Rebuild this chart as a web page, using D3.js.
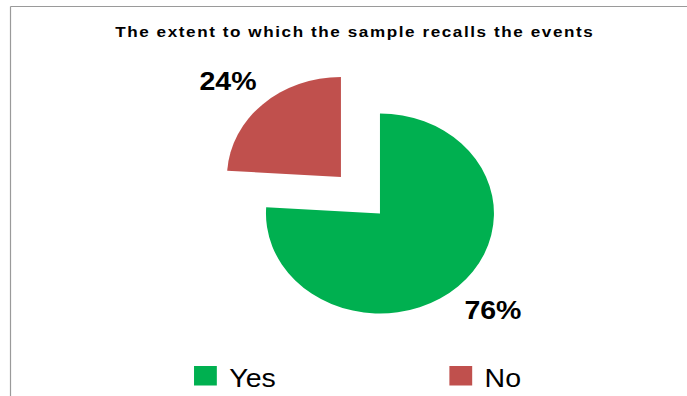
<!DOCTYPE html>
<html>
<head>
<meta charset="utf-8">
<script src="https://cdn.jsdelivr.net/npm/d3@7"></script>
<style>
  html, body { margin: 0; padding: 0; background: #fff; }
  svg { display: block; }
  text { font-family: "Liberation Sans", Arial, sans-serif; }
</style>
</head>
<body>
<script>
// Survey answers
const categories = ["Yes", "No"];
const values = [76, 24];
const colors = ["#00B050", "#C0504D"];
const title = "The extent to which the sample recalls the events";

const W = 687, H = 396;
const sx = 1.14;               // chart area is drawn horizontally widened
const cx = 333.3, cy = 213.5;  // pie centre (in unwidened units)
const R = 100;
const explodeNo = 50;          // "No" slice pulled out from the centre
const labelR = 138;
const labelTurn = -0.047;      // labels sit slightly counter-clockwise of mid-angle

const svg = d3.select("body").append("svg")
  .attr("width", W).attr("height", H);

// frame edges
svg.append("line").attr("x1", 10.5).attr("y1", 6.5).attr("x2", W).attr("y2", 6.5)
  .attr("stroke", "#9a9a9a").attr("stroke-width", 1.2);
svg.append("line").attr("x1", 10.5).attr("y1", 6.5).attr("x2", 10.5).attr("y2", H)
  .attr("stroke", "#9a9a9a").attr("stroke-width", 1.2);

const g = svg.append("g").attr("transform", `scale(${sx},1)`);

g.append("text")
  .attr("x", 310.5).attr("y", 37.5)
  .attr("text-anchor", "middle")
  .attr("font-size", 15).attr("font-weight", "bold")
  .attr("textLength", 419).attr("lengthAdjust", "spacing")
  .text(title);

const data = categories.map((c, i) => ({ cat: c, value: values[i], color: colors[i] }));
const pie = d3.pie().value(d => d.value).sort(null);
const arcs = pie(data);
const arc = d3.arc().innerRadius(0).outerRadius(R);

const midAngle = d => (d.startAngle + d.endAngle) / 2;
const offset = d => {
  const e = d.data.cat === "No" ? explodeNo : 0;
  const a = midAngle(d);
  return [Math.sin(a) * e, -Math.cos(a) * e];
};

const pieG = g.append("g").attr("transform", `translate(${cx},${cy})`);

pieG.selectAll("path").data(arcs).enter().append("path")
  .attr("d", arc)
  .attr("fill", d => d.data.color)
  .attr("transform", d => `translate(${offset(d)})`);

pieG.selectAll("text.lbl").data(arcs).enter().append("text")
  .attr("class", "lbl")
  .attr("transform", d => {
    const [ox, oy] = offset(d);
    const a = midAngle(d) + labelTurn;
    return `translate(${Math.sin(a) * labelR + ox},${-Math.cos(a) * labelR + oy})`;
  })
  .attr("text-anchor", "middle")
  .attr("dy", "0.36em")
  .attr("font-size", 25).attr("font-weight", "bold")
  .text(d => d.data.value + "%");

// legend
const legend = g.append("g").attr("transform", "translate(170.2,366)");
const item = legend.selectAll("g").data(data).enter().append("g")
  .attr("transform", (d, i) => `translate(${i * 224},0)`);
item.append("rect").attr("width", 20).attr("height", 19.5).attr("fill", d => d.color);
item.append("text").attr("x", 30.9).attr("y", 21).attr("font-size", 25)
  .text(d => d.cat);
</script>
</body>
</html>
